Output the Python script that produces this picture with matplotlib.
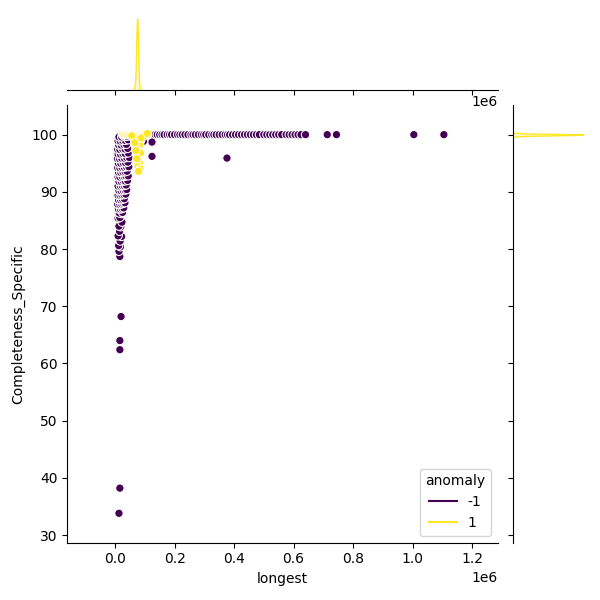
import numpy as np
import pandas as pd
import matplotlib
matplotlib.use("Agg")
import matplotlib.pyplot as plt
from matplotlib.lines import Line2D
import seaborn as sns

# ---------------- data (x in thousands) ----------------
# anomaly = -1 : horizontal row at Completeness = 100
neg_row_x = [20, 25, 30, 35, 40, 45, 50, 55, 60, 65, 90, 100, 110, 120, 128, 135,
             142, 150, 158, 165, 175, 183, 190, 200, 210, 218, 226, 235, 245, 255,
             262, 270, 280, 290, 298, 305, 315, 325, 332, 340, 350, 360, 370, 378,
             385, 395, 405, 415, 425, 435, 445, 455, 465, 475, 485, 500, 510, 520,
             530, 540, 550, 560, 575, 585, 595, 605, 615, 625, 640, 713, 744, 1004, 1105]
neg_row_y = [100.0] * len(neg_row_x)

# anomaly = -1 : vertical column near small "longest"
neg_col_x = [16, 13, 18, 12, 17, 22, 10, 15, 19, 13, 23, 10, 16, 21, 14, 25,
             11, 18, 24, 29, 9, 16, 22, 28, 33, 12, 19, 25, 31, 10, 17, 23, 30, 36,
             13, 20, 27, 34, 39, 10, 18, 24, 31, 37, 13, 21, 28, 34, 42, 10, 16, 24,
             31, 36, 44, 12, 19, 26, 34, 40, 9, 16, 23, 31, 38, 46, 11, 19, 27, 35,
             43, 8, 15, 22, 31, 39, 48, 10, 18, 26, 34, 44, 9, 16, 25, 33, 42, 12,
             20, 29, 38, 10, 17, 25, 34, 44, 13, 22, 31, 40]
neg_col_y = [78.7, 79.6, 80.4, 80.6, 81.4, 82.2, 82.3, 83.1, 83.9, 84.0, 84.7, 85.4,
             85.5, 86.2, 86.3, 86.4, 87.0, 87.0, 87.1, 87.2, 87.8, 87.8, 87.9, 88.0, 88.1,
             88.6, 88.6, 88.7, 88.8, 89.4, 89.4, 89.5, 89.5, 89.6, 90.2, 90.2, 90.3, 90.3,
             90.4, 91.0, 91.0, 91.1, 91.1, 91.2, 91.8, 91.8, 91.9, 91.9, 92.0, 92.6, 92.6,
             92.7, 92.7, 92.8, 92.8, 93.4, 93.4, 93.5, 93.5, 93.6, 94.2, 94.2, 94.3, 94.3,
             94.4, 94.4, 95.0, 95.0, 95.1, 95.1, 95.2, 95.8, 95.8, 95.9, 95.9, 96.0, 96.0,
             96.6, 96.6, 96.7, 96.7, 96.8, 97.4, 97.4, 97.5, 97.5, 97.6, 98.2, 98.2, 98.3,
             98.3, 98.9, 98.9, 99.0, 99.0, 99.1, 99.6, 99.6, 99.7, 99.7]

# anomaly = -1 : isolated points
neg_iso_x = [124, 124, 95, 376, 20, 16, 16, 16, 13]
neg_iso_y = [98.7, 96.2, 98.8, 95.9, 68.2, 64.0, 62.4, 38.2, 33.8]

# anomaly = 1 : normal records (x, y, count of identical records)
pos_x = [25, 30, 35, 40, 45, 50, 55, 60, 64, 68, 71, 72, 73, 74, 75, 76, 77, 78, 81, 85,
         89, 93, 98, 104, 110,
         68, 74, 78, 70, 80, 76, 73, 79, 75, 82, 77, 84, 79, 86, 83, 71, 64, 88, 108,
         60, 56, 85, 66, 70, 73]
pos_y = [100.0] * 25 + [99.3, 98.9, 98.5, 98.0, 97.5, 97.0, 96.5, 96.0, 95.5, 95.0,
                        94.5, 94.0, 93.6, 99.0, 98.2, 97.8, 99.6, 99.4, 100.2,
                        99.5, 99.8, 96.8, 98.6, 97.2, 95.8]
pos_n = [1, 1, 2, 2, 3, 5, 10, 40, 150, 400, 900, 1400, 1700, 1900, 1700, 1300, 900,
         500, 150, 60, 20, 8, 3, 2, 1,
         3, 3, 2, 2, 2, 2, 2, 2, 2, 2, 1, 1, 1, 3, 2, 2, 3, 3, 1, 2, 2, 1, 2, 1, 1]

# ---------------- build table ----------------
neg_x = neg_row_x + neg_col_x + neg_iso_x
neg_y = neg_row_y + neg_col_y + neg_iso_y
df = pd.DataFrame({
    "longest": np.array(neg_x + pos_x, dtype=float) * 1000.0,
    "Completeness_Specific": np.array(neg_y + pos_y, dtype=float),
    "anomaly": [-1] * len(neg_x) + [1] * len(pos_x),
    "n": [1] * len(neg_x) + pos_n,
})

cmap = plt.get_cmap("viridis")
pal = {-1: cmap(0.0), 1: cmap(1.0)}

g = sns.JointGrid(height=6, ratio=5, space=0.2)
ax = g.ax_joint

# scatter in the joint axes
nr = len(neg_row_x)
sc_order = pd.concat([df.iloc[:nr], df.iloc[nr:len(neg_x)], df[df.anomaly == 1]])
ax.scatter(sc_order["longest"], sc_order["Completeness_Specific"],
           c=[pal[a] for a in sc_order["anomaly"]], s=36,
           edgecolors="white", linewidths=0.75)

# marginal KDEs
sns.kdeplot(data=df, x="longest", hue="anomaly", weights="n", palette=pal, fill=True,
            ax=g.ax_marg_x, legend=False, warn_singular=False)
sns.kdeplot(data=df, y="Completeness_Specific", hue="anomaly", weights="n", palette=pal,
            fill=True, ax=g.ax_marg_y, legend=False, warn_singular=False)
g.ax_marg_x.yaxis.get_offset_text().set_visible(False)
g.ax_marg_y.xaxis.get_offset_text().set_visible(False)
g.ax_marg_x.set_ylabel("")
g.ax_marg_y.set_xlabel("")

ax.set_xlim(-0.161e6, 1.286e6)
ax.set_ylim(28.66, 105.1)
ax.set_xlabel("longest")
ax.set_ylabel("Completeness_Specific")

handles = [Line2D([0], [0], color=pal[-1], lw=1.5),
           Line2D([0], [0], color=pal[1], lw=1.5)]
ax.legend(handles, ["-1", "1"], title="anomaly", loc="lower right")

fig = g.figure
fig.set_size_inches(6, 6)
fig.subplots_adjust(left=0.112, right=0.978, top=0.975, bottom=0.0955,
                    hspace=0.2, wspace=0.2)
fig.savefig("out.png", dpi=100)
